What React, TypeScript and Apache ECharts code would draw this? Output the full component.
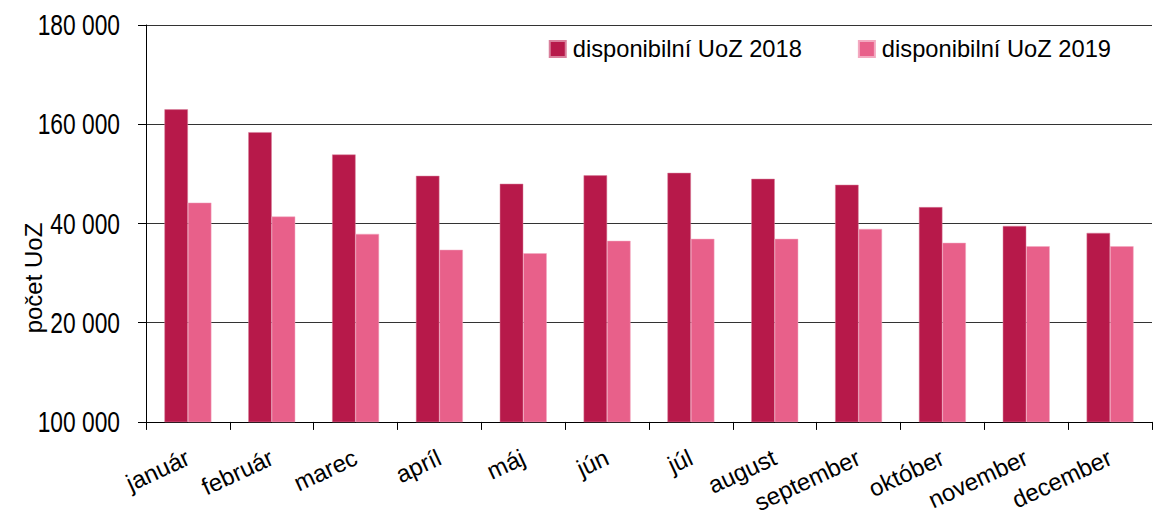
import React, { useEffect, useRef } from "react";
import * as echarts from "echarts";

const categories = ["január", "február", "marec", "apríl", "máj", "jún", "júl", "august", "september", "október", "november", "december"];
const series2018 = [163000, 158400, 153900, 149600, 148000, 149700, 150200, 149000, 147800, 143300, 139500, 138100];
const series2019 = [144200, 141400, 137900, 134700, 134000, 136500, 136900, 136900, 138900, 136100, 135400, 135400];
const yTickValues = [100000, 120000, 140000, 160000, 180000];
const yTickLabels = ["100 000", "20 000", "40 000", "160 000", "180 000"];
const legendNames = ["disponibilní UoZ 2018", "disponibilní UoZ 2019"];
const axisTitle = "počet UoZ";

const FONT = "'Liberation Sans', Arial, sans-serif";

export default function App() {
  const ref = useRef<HTMLDivElement>(null);
  useEffect(() => {
    if (!ref.current) return;
    const chart = echarts.init(ref.current, null, { renderer: "svg" });
    chart.setOption({
      animation: false,
      backgroundColor: "#ffffff",
      grid: { left: 146, right: 1, top: 25, bottom: 90, containLabel: false },
      legend: {
        data: legendNames,
        right: 37,
        top: 32,
        itemWidth: 16,
        itemHeight: 16,
        itemGap: 56,
        icon: "rect",
        textStyle: { fontFamily: FONT, fontSize: 23.7, color: "#000", padding: [0, 0, 0, 2] },
      },
      xAxis: {
        type: "category",
        data: categories,
        axisLine: { lineStyle: { color: "#000", width: 1 } },
        axisTick: { show: true, length: 8, lineStyle: { color: "#000" } },
        axisLabel: { rotate: 25, fontFamily: FONT, fontSize: 24, color: "#000", margin: 34, interval: 0 },
      },
      yAxis: {
        type: "value",
        min: 100000,
        max: 180000,
        interval: 20000,
        axisLine: { show: true, lineStyle: { color: "#000", width: 1 } },
        axisTick: { show: true, length: 8, lineStyle: { color: "#000" } },
        splitLine: { show: true, lineStyle: { color: "#333", width: 1 } },
        axisLabel: { show: false },
      },
      series: [
        {
          name: legendNames[0],
          type: "bar",
          data: series2018,
          barGap: "0%",
          barCategoryGap: "44%",
          itemStyle: { color: "#B7194A", borderColor: "#D9809C", borderWidth: 0.5 },
        },
        {
          name: legendNames[1],
          type: "bar",
          data: series2019,
          barGap: "0%",
          barCategoryGap: "44%",
          itemStyle: { color: "#E8608A", borderColor: "#F3A9C0", borderWidth: 0.5 },
        },
      ],
    });
    const labelEls = yTickValues.map((v, i) => {
      const y = chart.convertToPixel({ yAxisIndex: 0 }, v) as number;
      return {
        type: "text",
        id: "ylab" + i,
        x: 120,
        y: y,
        scaleX: 0.76,
        style: {
          text: yTickLabels[i],
          fontFamily: FONT,
          fontSize: 30,
          fill: "#000",
          textAlign: "right",
          textVerticalAlign: "middle",
        },
      };
    });
    chart.setOption({
      graphic: [
        ...labelEls,
        {
          type: "text",
          id: "ytitle",
          x: 33,
          y: 278,
          rotation: Math.PI / 2,
          style: {
            text: axisTitle,
            fontFamily: FONT,
            fontSize: 24,
            fill: "#000",
            textAlign: "center",
            textVerticalAlign: "middle",
          },
        },
      ],
    });
    return () => chart.dispose();
  }, []);
  return <div ref={ref} style={{ position: "absolute", left: 0, top: 0, width: 1153, height: 516 }} />;
}
